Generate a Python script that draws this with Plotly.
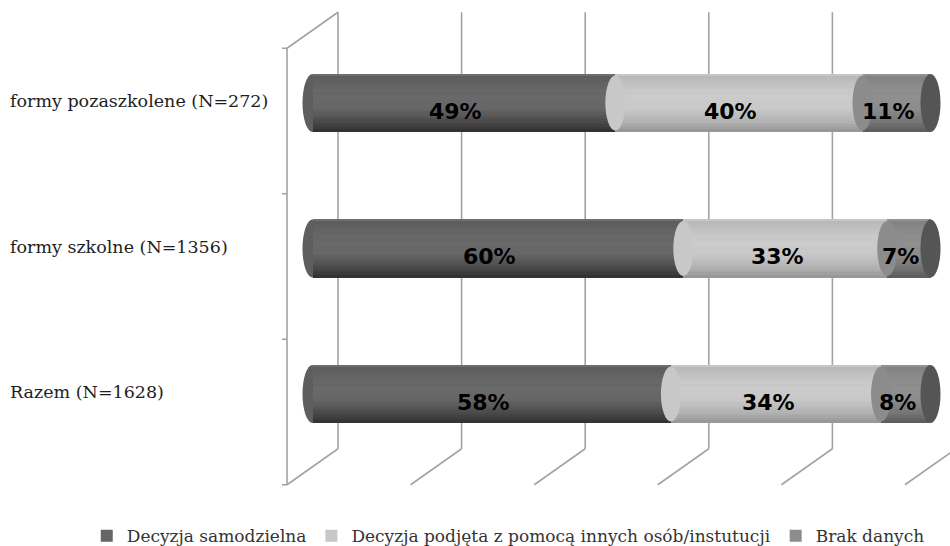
import plotly.graph_objects as go

# ---- data ----
categories = ["Razem (N=1628)", "formy szkolne (N=1356)", "formy pozaszkolene (N=272)"]
series_names = ["Decyzja samodzielna",
                "Decyzja podjęta z pomocą innych osób/instutucji",
                "Brak danych"]
samodzielna = [58, 60, 49]
z_pomoca = [34, 33, 40]
brak_danych = [8, 7, 11]
grid_ticks = [0, 20, 40, 60, 80, 100]

series_values = [samodzielna, z_pomoca, brak_danych]

# ---- styles ----
W_PX, H_PX = 950, 546
PXX = 6.18          # px per percent
PXY = 145.5         # px per category step
X0_PX = 312.5       # px of 0 %
Y0_PX = 394.0       # px of first category centre
DX = 25.5 / PXX     # depth offset (x)
DY = 18.0 / PXY     # depth offset (y)
BW = 58.0 / PXY     # bar thickness
EW = 10.0 / PXX     # ellipse half width
GRID_C = "#a3a3a3"
N_BANDS = 24

shade_stops = [
    [(0.0, 0x82), (0.04, 0x5c), (0.35, 0x6a), (0.6, 0x66), (0.85, 0x48), (1.0, 0x30)],
    [(0.0, 0xd6), (0.04, 0xb8), (0.35, 0xcc), (0.6, 0xc8), (0.85, 0xb0), (1.0, 0x94)],
    [(0.0, 0xa6), (0.04, 0x82), (0.35, 0x90), (0.6, 0x8c), (0.85, 0x74), (1.0, 0x5a)],
]
mid_colors = ["#666666", "#c8c8c8", "#8c8c8c"]
cap_color = "#555555"
LEGEND_BAND = 8


def level_at(stops, f):
    for (fa, la), (fb, lb) in zip(stops[:-1], stops[1:]):
        if fa <= f <= fb:
            t = (f - fa) / (fb - fa) if fb > fa else 0
            return la + (lb - la) * t
    return stops[-1][1]


def gray(l):
    l = int(round(max(0, min(255, l))))
    return f"rgb({l},{l},{l})"


xr0 = -X0_PX / PXX
xr1 = xr0 + W_PX / PXX
yr1 = Y0_PX / PXY
yr0 = yr1 - H_PX / PXY

positions = list(range(len(categories)))

fig = go.Figure()

bases_all = []
for si, (name, vals) in enumerate(zip(series_names, series_values)):
    if si == 0:
        bases = [0] * len(vals)
    else:
        bases = [b + v for b, v in zip(bases_all[-1], series_values[si - 1])]
    bases_all.append(bases)
    fr = 1.0 / N_BANDS
    for bi in range(N_BANDS):
        f0 = bi * fr
        f1 = f0 + fr
        y_bot = BW / 2 - f1 * BW
        col = gray(level_at(shade_stops[si], (f0 + f1) / 2))
        if bi == LEGEND_BAND:
            col = mid_colors[si]
        fig.add_trace(go.Bar(
            orientation="h", y=positions, x=vals, base=bases,
            width=fr * BW + 0.003, offset=y_bot,
            marker=dict(color=col, line=dict(width=0)),
            name=name, legendgroup=name, showlegend=(bi == LEGEND_BAND),
            hoverinfo="skip",
        ))

shapes = []
line = dict(color=GRID_C, width=1.6)
ybot, ytop = -0.5, len(categories) - 0.5
for g in grid_ticks:
    shapes.append(dict(type="line", xref="x", yref="y", layer="below",
                       x0=g + DX, y0=ybot + DY, x1=g + DX, y1=ytop + DY, line=line))
    shapes.append(dict(type="line", xref="x", yref="y", layer="below",
                       x0=g + DX, y0=ybot + DY, x1=g - DX, y1=ybot - DY, line=line))
shapes.append(dict(type="line", xref="x", yref="y", layer="below",
                   x0=-DX, y0=ybot - DY, x1=-DX, y1=ytop - DY, line=line))
shapes.append(dict(type="line", xref="x", yref="y", layer="below",
                   x0=-DX, y0=ytop - DY, x1=DX, y1=ytop + DY, line=line))
for k in range(len(categories) + 1):
    b = ybot + k
    shapes.append(dict(type="line", xref="x", yref="y", layer="below",
                       x0=-DX, y0=b - DY, x1=-DX - 5 / PXX, y1=b - DY, line=line))
for pi, p in enumerate(positions):
    shapes.append(dict(type="circle", xref="x", yref="y", layer="below",
                       x0=-EW, x1=EW, y0=p - BW / 2, y1=p + BW / 2,
                       fillcolor="#5e5e5e", line=dict(width=0)))
    for si in range(1, len(series_values)):
        bx = bases_all[si][pi]
        shapes.append(dict(type="circle", xref="x", yref="y", layer="above",
                           x0=bx - EW, x1=bx + EW, y0=p - BW / 2 + 0.01, y1=p + BW / 2 - 0.01,
                           fillcolor=mid_colors[si], line=dict(width=0)))
    end = bases_all[-1][pi] + series_values[-1][pi]
    shapes.append(dict(type="circle", xref="x", yref="y", layer="above",
                       x0=end - EW, x1=end + EW, y0=p - BW / 2, y1=p + BW / 2,
                       fillcolor=cap_color, line=dict(width=0)))

annotations = []
for si, vals in enumerate(series_values):
    for pi, v in enumerate(vals):
        annotations.append(dict(
            x=bases_all[si][pi] + v / 2, y=positions[pi], xref="x", yref="y",
            text=f"{v}%", showarrow=False, xshift=-8, yshift=-8,
            font=dict(family="DejaVu Sans", size=22, color="#000000", weight="bold"),
        ))
for pi, c in enumerate(categories):
    annotations.append(dict(
        x=8 / W_PX, xref="paper", xanchor="left", y=positions[pi], yref="y",
        text=c, showarrow=False, yshift=2,
        font=dict(family="DejaVu Serif", size=17.5, color="#1e1e1e"),
    ))

fig.update_layout(
    width=W_PX, height=H_PX,
    margin=dict(l=0, r=0, t=0, b=0, autoexpand=False),
    paper_bgcolor="white", plot_bgcolor="white",
    barmode="overlay", bargap=0,
    xaxis=dict(range=[xr0, xr1], visible=False, fixedrange=True),
    yaxis=dict(range=[yr0, yr1], visible=False, fixedrange=True),
    shapes=shapes, annotations=annotations,
    legend=dict(orientation="h", x=0.535, xanchor="center", y=0.018, yanchor="middle",
                font=dict(family="DejaVu Serif", size=17, color="#333333"),
                bgcolor="rgba(0,0,0,0)", traceorder="normal"),
    showlegend=True,
)

fig.write_html("out.html")
